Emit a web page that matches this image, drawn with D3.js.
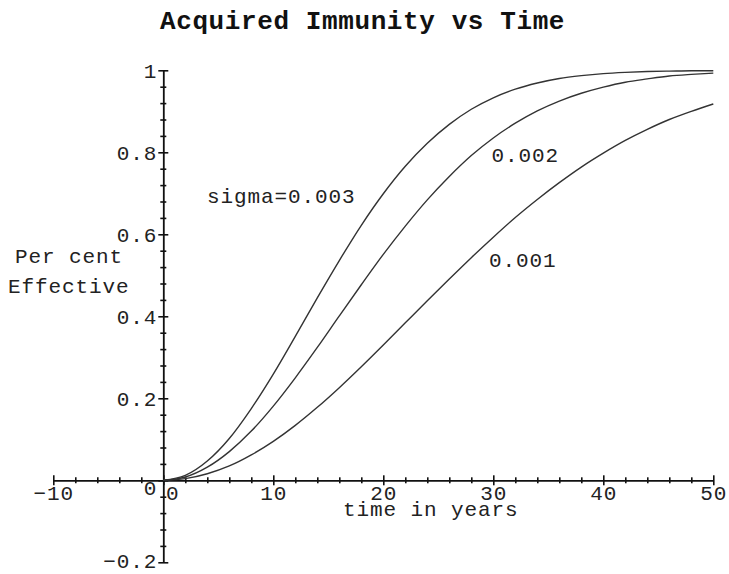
<!DOCTYPE html>
<html>
<head>
<meta charset="utf-8">
<script src="https://cdn.jsdelivr.net/npm/d3@7/dist/d3.min.js"></script>
<style>
  html, body { margin: 0; padding: 0; background: #fff; }
  svg { display: block; }
  text { font-family: "Liberation Mono", "Courier New", monospace; fill: #222; }
</style>
</head>
<body>
<svg id="chart" width="729" height="574"></svg>
<script>
// ---- data ----
const years = [0,2,4,6,8,10,12,14,16,18,20,22,24,26,28,30,32,34,36,38,40,42,44,46,48,50];
const sigma001 = [0,0.004,0.016,0.035,0.062,0.095,0.134,0.178,0.226,0.277,0.330,0.384,0.438,0.491,0.543,0.593,0.641,0.685,0.726,0.764,0.798,0.829,0.856,0.880,0.900,0.918];
const sigma002 = [0,0.008,0.032,0.070,0.120,0.181,0.250,0.324,0.401,0.477,0.551,0.620,0.684,0.741,0.792,0.835,0.871,0.901,0.925,0.944,0.959,0.971,0.979,0.986,0.990,0.993];
const sigma003 = [0,0.012,0.047,0.102,0.175,0.259,0.351,0.445,0.536,0.622,0.699,0.766,0.822,0.868,0.905,0.933,0.954,0.969,0.980,0.987,0.992,0.995,0.997,0.998,0.999,0.999];
const seriesLabels = ["0.001", "0.002", "sigma=0.003"];
const xMajorTicks = [-10,0,10,20,30,40,50];
const yMajorTicks = [-0.2,0,0.2,0.4,0.6,0.8,1];
const yTickLabels = ["\u22120.2","0","0.2","0.4","0.6","0.8","1"];
const xTickLabels = ["\u221210","0","10","20","30","40","50"];
const title = "Acquired Immunity vs Time";
const xTitle = "time in years";
const yTitle = ["Per cent", "Effective"];

// ---- drawing ----
const svg = d3.select("#chart");
const x = d3.scaleLinear().domain([-10, 50]).range([53.3, 713.3]);
const y = d3.scaleLinear().domain([-0.2, 1]).range([562.3, 70.3]);

const xMinor = d3.range(-10, 50.001, 2).filter(v => xMajorTicks.indexOf(v) < 0);
const yMinor = d3.range(-0.2, 1.0001, 0.04).map(v => +v.toFixed(2)).filter(v => !yMajorTicks.some(m => Math.abs(m - v) < 1e-6));

function styleAxis(g) {
  g.select(".domain").attr("stroke", "#111").attr("stroke-width", 1.8);
  g.selectAll(".tick line").attr("stroke", "#111").attr("stroke-width", 1.6);
  g.selectAll(".tick text").remove();
}

// x axis (major + minor ticks crossing the axis)
const gx = svg.append("g").attr("transform", `translate(0,${y(0)})`)
  .call(d3.axisBottom(x).tickValues(xMajorTicks).tickSizeOuter(0).tickFormat(""));
styleAxis(gx);
gx.selectAll(".tick line").attr("y1", -5).attr("y2", 5);
const gxm = svg.append("g").attr("transform", `translate(0,${y(0)})`)
  .call(d3.axisBottom(x).tickValues(xMinor).tickSizeOuter(0).tickFormat(""));
styleAxis(gxm);
gxm.select(".domain").remove();
gxm.selectAll(".tick line").attr("y1", -3).attr("y2", 3);

// y axis
const gy = svg.append("g").attr("transform", `translate(${x(0)},0)`)
  .call(d3.axisLeft(y).tickValues(yMajorTicks).tickSizeOuter(0).tickFormat(""));
styleAxis(gy);
gy.selectAll(".tick line").attr("x1", -5).attr("x2", 5);
const gym = svg.append("g").attr("transform", `translate(${x(0)},0)`)
  .call(d3.axisLeft(y).tickValues(yMinor).tickSizeOuter(0).tickFormat(""));
styleAxis(gym);
gym.select(".domain").remove();
gym.selectAll(".tick line").attr("x1", -3).attr("x2", 3);

const fs = "21px";
const ls = "0.9px";
function label(t) {
  return t.style("font-size", fs).style("letter-spacing", ls);
}

// y tick labels
yMajorTicks.forEach((v, i) => {
  const isZero = v === 0;
  const isBottom = i === 0;
  label(svg.append("text")
    .attr("x", x(0) - 6)
    .attr("y", y(v) + (isZero ? 15 : (isBottom ? 6 : 7.3)))
    .attr("text-anchor", "end"))
    .text(yTickLabels[i]);
});

// x tick labels
xMajorTicks.forEach((v, i) => {
  const isZero = v === 0;
  label(svg.append("text")
    .attr("x", isZero ? x(0) + 2.7 : x(v) + 0.5)
    .attr("y", y(0) + 20)
    .attr("text-anchor", isZero ? "start" : "middle"))
    .text(xTickLabels[i]);
});

// curves
const line = d3.line()
  .x((d, i) => x(years[i]))
  .y(d => y(d))
  .curve(d3.curveMonotoneX);
[sigma001, sigma002, sigma003].forEach(s => {
  svg.append("path")
    .attr("d", line(s))
    .attr("fill", "none")
    .attr("stroke", "#333")
    .attr("stroke-width", 1.4);
});

// curve labels
const labelPos = [
  { x: 489, y: 267 },
  { x: 491.5, y: 161.5 },
  { x: 207, y: 202.5 }
];
seriesLabels.forEach((t, i) => {
  label(svg.append("text")
    .attr("x", labelPos[i].x)
    .attr("y", labelPos[i].y))
    .text(t);
});

// title
svg.append("text")
  .attr("x", 160)
  .attr("y", 28.5)
  .style("font-size", "26px")
  .style("letter-spacing", "0.6px")
  .style("font-weight", "bold")
  .style("fill", "#111")
  .text(title);

// axis titles
label(svg.append("text").attr("x", 343).attr("y", 516)).text(xTitle);
label(svg.append("text").attr("x", 15).attr("y", 263.3)).text(yTitle[0]);
label(svg.append("text").attr("x", 8).attr("y", 292.7)).text(yTitle[1]);
</script>
</body>
</html>
